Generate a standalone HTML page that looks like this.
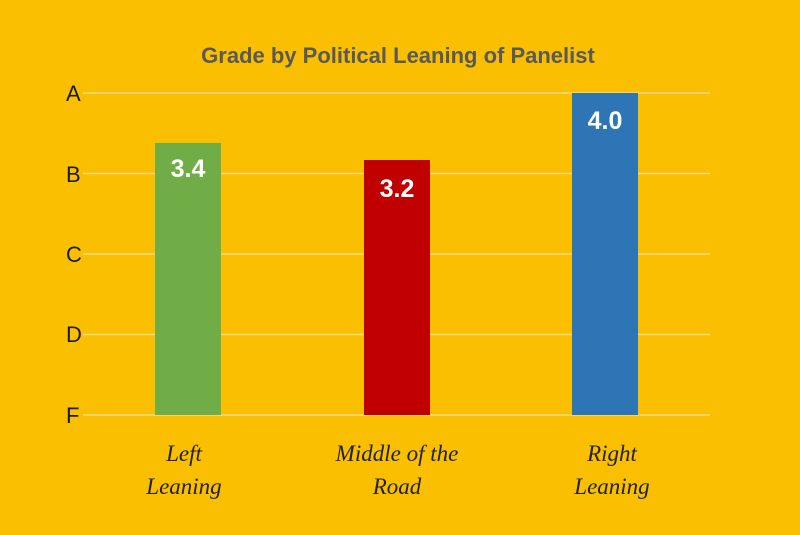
<!DOCTYPE html>
<html><head><style>
html,body{margin:0;padding:0;background:#F9BF00;}
</style></head><body>
<svg width="800" height="530" xmlns="http://www.w3.org/2000/svg">
<rect width="800" height="530" fill="#F9BF00"/>
<text x="398" y="63" text-anchor="middle" font-family="Liberation Sans, sans-serif" font-weight="bold" font-size="22" fill="#595959">Grade by Political Leaning of Panelist</text>
<g stroke="#F5DA8A" stroke-width="1.5">
<line x1="83" y1="93" x2="710" y2="93"/>
<line x1="83" y1="173.5" x2="710" y2="173.5"/>
<line x1="83" y1="254" x2="710" y2="254"/>
<line x1="83" y1="334.5" x2="710" y2="334.5"/>
<line x1="83" y1="415" x2="710" y2="415"/>
</g>
<g font-family="Liberation Sans, sans-serif" font-size="22" fill="#1a1a1a">
<text x="66" y="101">A</text>
<text x="66" y="182">B</text>
<text x="66" y="262">C</text>
<text x="66" y="342">D</text>
<text x="66" y="423">F</text>
</g>
<rect x="155" y="143" width="66" height="272" fill="#70AD47"/>
<rect x="364" y="160" width="66" height="255" fill="#C00000"/>
<rect x="572" y="93" width="66" height="322" fill="#2E75B6"/>
<g font-family="Liberation Sans, sans-serif" font-weight="bold" font-size="25" fill="#fff" text-anchor="middle">
<text x="188" y="177">3.4</text>
<text x="397" y="197">3.2</text>
<text x="605" y="129">4.0</text>
</g>
<g font-family="Liberation Serif, serif" font-style="italic" font-size="23" fill="#222" text-anchor="middle">
<text x="184" y="461">Left</text>
<text x="184" y="494">Leaning</text>
<text x="397" y="461">Middle of the</text>
<text x="397" y="494">Road</text>
<text x="612" y="461">Right</text>
<text x="612" y="494">Leaning</text>
</g>
</svg>
</body></html>
